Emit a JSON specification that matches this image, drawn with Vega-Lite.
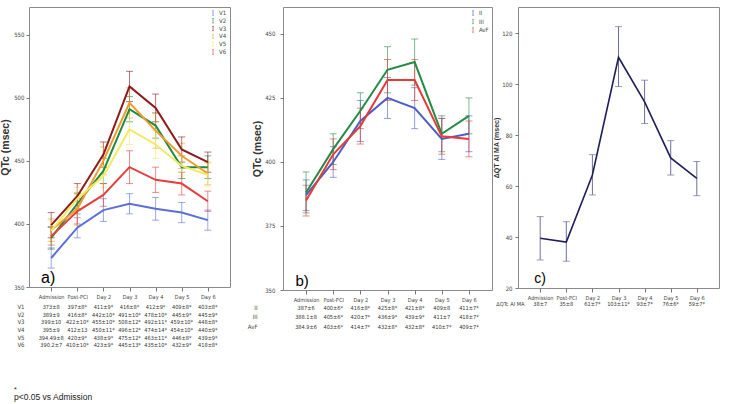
{
  "$schema": "https://vega.github.io/schema/vega-lite/v6.json",
  "background": "white",
  "padding": {"left": 0, "top": 4, "right": 0, "bottom": 0},
  "columns": 4,
  "spacing": {"row": 13, "column": 26},
  "bounds": "flush",
  "align": "each",
  "resolve": {"scale": {"color": "independent"}, "legend": {"color": "independent"}},
  "config": {
    "font": "Liberation Sans",
    "view": {"stroke": "#8a8a8a", "strokeWidth": 1},
    "axis": {"grid": false, "domain": false, "labelFont": "Liberation Sans Narrow, DejaVu Sans Condensed, sans-serif", "labelColor": "#444", "tickColor": "#777", "titleFont": "Liberation Sans", "titleColor": "#333", "labelAngle": 0},
    "legend": {"labelFont": "Liberation Sans Narrow, DejaVu Sans Condensed, sans-serif"}
  },
  "datasets": {
    "a": [
      {"lead": "V1", "time": "Admission", "mean": 373, "lo": 365, "hi": 381, "txt": "373±8"},
      {"lead": "V1", "time": "Post-PCI", "mean": 397, "lo": 389, "hi": 405, "txt": "397±8*"},
      {"lead": "V1", "time": "Day 2", "mean": 411, "lo": 402, "hi": 420, "txt": "411±9*"},
      {"lead": "V1", "time": "Day 3", "mean": 416, "lo": 408, "hi": 424, "txt": "416±8*"},
      {"lead": "V1", "time": "Day 4", "mean": 412, "lo": 403, "hi": 421, "txt": "412±9*"},
      {"lead": "V1", "time": "Day 5", "mean": 409, "lo": 401, "hi": 417, "txt": "409±8*"},
      {"lead": "V1", "time": "Day 6", "mean": 403, "lo": 395, "hi": 411, "txt": "403±8*"},
      {"lead": "V2", "time": "Admission", "mean": 389, "lo": 380, "hi": 398, "txt": "389±9"},
      {"lead": "V2", "time": "Post-PCI", "mean": 416, "lo": 408, "hi": 424, "txt": "416±8*"},
      {"lead": "V2", "time": "Day 2", "mean": 442, "lo": 432, "hi": 452, "txt": "442±10*"},
      {"lead": "V2", "time": "Day 3", "mean": 491, "lo": 481, "hi": 501, "txt": "491±10*"},
      {"lead": "V2", "time": "Day 4", "mean": 478, "lo": 468, "hi": 488, "txt": "478±10*"},
      {"lead": "V2", "time": "Day 5", "mean": 445, "lo": 436, "hi": 454, "txt": "445±9*"},
      {"lead": "V2", "time": "Day 6", "mean": 445, "lo": 436, "hi": 454, "txt": "445±9*"},
      {"lead": "V3", "time": "Admission", "mean": 399, "lo": 389, "hi": 409, "txt": "399±10"},
      {"lead": "V3", "time": "Post-PCI", "mean": 422, "lo": 412, "hi": 432, "txt": "422±10*"},
      {"lead": "V3", "time": "Day 2", "mean": 455, "lo": 445, "hi": 465, "txt": "455±10*"},
      {"lead": "V3", "time": "Day 3", "mean": 509, "lo": 497, "hi": 521, "txt": "508±12*"},
      {"lead": "V3", "time": "Day 4", "mean": 492, "lo": 481, "hi": 503, "txt": "492±11*"},
      {"lead": "V3", "time": "Day 5", "mean": 459, "lo": 449, "hi": 469, "txt": "459±10*"},
      {"lead": "V3", "time": "Day 6", "mean": 449, "lo": 441, "hi": 457, "txt": "448±8*"},
      {"lead": "V4", "time": "Admission", "mean": 395, "lo": 386, "hi": 404, "txt": "395±9"},
      {"lead": "V4", "time": "Post-PCI", "mean": 412, "lo": 399, "hi": 425, "txt": "412±13"},
      {"lead": "V4", "time": "Day 2", "mean": 450, "lo": 439, "hi": 461, "txt": "450±11*"},
      {"lead": "V4", "time": "Day 3", "mean": 496, "lo": 484, "hi": 508, "txt": "496±12*"},
      {"lead": "V4", "time": "Day 4", "mean": 474, "lo": 460, "hi": 488, "txt": "474±14*"},
      {"lead": "V4", "time": "Day 5", "mean": 454, "lo": 444, "hi": 464, "txt": "454±10*"},
      {"lead": "V4", "time": "Day 6", "mean": 440, "lo": 431, "hi": 449, "txt": "440±9*"},
      {"lead": "V5", "time": "Admission", "mean": 394.5, "lo": 386.5, "hi": 402.5, "txt": "394.49±8"},
      {"lead": "V5", "time": "Post-PCI", "mean": 420, "lo": 411, "hi": 429, "txt": "420±9*"},
      {"lead": "V5", "time": "Day 2", "mean": 438, "lo": 429, "hi": 447, "txt": "438±9*"},
      {"lead": "V5", "time": "Day 3", "mean": 475, "lo": 463, "hi": 487, "txt": "475±12*"},
      {"lead": "V5", "time": "Day 4", "mean": 463, "lo": 452, "hi": 474, "txt": "463±11*"},
      {"lead": "V5", "time": "Day 5", "mean": 446, "lo": 438, "hi": 454, "txt": "446±8*"},
      {"lead": "V5", "time": "Day 6", "mean": 439, "lo": 430, "hi": 448, "txt": "439±9*"},
      {"lead": "V6", "time": "Admission", "mean": 390.2, "lo": 383.2, "hi": 397.2, "txt": "390.2±7"},
      {"lead": "V6", "time": "Post-PCI", "mean": 410, "lo": 400, "hi": 420, "txt": "410±10*"},
      {"lead": "V6", "time": "Day 2", "mean": 423, "lo": 414, "hi": 432, "txt": "423±9*"},
      {"lead": "V6", "time": "Day 3", "mean": 445, "lo": 432, "hi": 458, "txt": "445±13*"},
      {"lead": "V6", "time": "Day 4", "mean": 435, "lo": 425, "hi": 445, "txt": "435±10*"},
      {"lead": "V6", "time": "Day 5", "mean": 432, "lo": 423, "hi": 441, "txt": "432±9*"},
      {"lead": "V6", "time": "Day 6", "mean": 418, "lo": 410, "hi": 426, "txt": "418±8*"}
    ],
    "b": [
      {"lead": "II", "time": "Admission", "mean": 387, "lo": 381, "hi": 393, "txt": "387±6"},
      {"lead": "II", "time": "Post-PCI", "mean": 400, "lo": 394, "hi": 406, "txt": "400±6*"},
      {"lead": "II", "time": "Day 2", "mean": 416, "lo": 408, "hi": 424, "txt": "416±8*"},
      {"lead": "II", "time": "Day 3", "mean": 425, "lo": 417, "hi": 433, "txt": "425±8*"},
      {"lead": "II", "time": "Day 4", "mean": 421, "lo": 413, "hi": 429, "txt": "421±8*"},
      {"lead": "II", "time": "Day 5", "mean": 409, "lo": 401, "hi": 417, "txt": "409±8"},
      {"lead": "II", "time": "Day 6", "mean": 411, "lo": 404, "hi": 418, "txt": "411±7*"},
      {"lead": "III", "time": "Admission", "mean": 388.1, "lo": 380.1, "hi": 396.1, "txt": "388.1±8"},
      {"lead": "III", "time": "Post-PCI", "mean": 405, "lo": 399, "hi": 411, "txt": "405±6*"},
      {"lead": "III", "time": "Day 2", "mean": 420, "lo": 413, "hi": 427, "txt": "420±7*"},
      {"lead": "III", "time": "Day 3", "mean": 436, "lo": 427, "hi": 445, "txt": "436±9*"},
      {"lead": "III", "time": "Day 4", "mean": 439, "lo": 430, "hi": 448, "txt": "439±9*"},
      {"lead": "III", "time": "Day 5", "mean": 411, "lo": 404, "hi": 418, "txt": "411±7"},
      {"lead": "III", "time": "Day 6", "mean": 418, "lo": 411, "hi": 425, "txt": "418±7*"},
      {"lead": "AvF", "time": "Admission", "mean": 384.9, "lo": 378.9, "hi": 390.9, "txt": "384.9±6"},
      {"lead": "AvF", "time": "Post-PCI", "mean": 403, "lo": 397, "hi": 409, "txt": "403±6*"},
      {"lead": "AvF", "time": "Day 2", "mean": 414, "lo": 407, "hi": 421, "txt": "414±7*"},
      {"lead": "AvF", "time": "Day 3", "mean": 432, "lo": 424, "hi": 440, "txt": "432±8*"},
      {"lead": "AvF", "time": "Day 4", "mean": 432, "lo": 424, "hi": 440, "txt": "432±8*"},
      {"lead": "AvF", "time": "Day 5", "mean": 410, "lo": 403, "hi": 417, "txt": "410±7*"},
      {"lead": "AvF", "time": "Day 6", "mean": 409, "lo": 402, "hi": 416, "txt": "409±7*"}
    ],
    "c": [
      {"lead": "ΔQTc AI MA", "time": "Admission", "mean": 39.5, "lo": 31, "hi": 48, "txt": "38±7"},
      {"lead": "ΔQTc AI MA", "time": "Post-PCI", "mean": 38, "lo": 30.5, "hi": 46, "txt": "35±8"},
      {"lead": "ΔQTc AI MA", "time": "Day 2", "mean": 64.3, "lo": 56.5, "hi": 72.3, "txt": "61±7*"},
      {"lead": "ΔQTc AI MA", "time": "Day 3", "mean": 110.5, "lo": 99, "hi": 122.5, "txt": "103±11*"},
      {"lead": "ΔQTc AI MA", "time": "Day 4", "mean": 93, "lo": 84.5, "hi": 101.5, "txt": "93±7*"},
      {"lead": "ΔQTc AI MA", "time": "Day 5", "mean": 71, "lo": 64.3, "hi": 77.8, "txt": "76±6*"},
      {"lead": "ΔQTc AI MA", "time": "Day 6", "mean": 63, "lo": 56.2, "hi": 69.6, "txt": "59±7*"}
    ]
  },
  "concat": [
    {
      "width": 201, "height": 280,
      "data": {"name": "a"},
      "layer": [
        {
          "mark": {"type": "errorbar", "ticks": {"size": 7}, "thickness": 1, "opacity": 0.6},
          "encoding": {
            "x": {"field": "time", "type": "ordinal", "sort": null, "scale": {"type": "point", "domain": ["Admission", "Post-PCI", "Day 2", "Day 3", "Day 4", "Day 5", "Day 6"], "padding": 0.85}, "axis": {"title": null, "labelFontSize": 5.6, "tickSize": 4, "labelPadding": 3}},
            "y": {"field": "lo", "type": "quantitative", "title": "QTc (msec)", "scale": {"domain": [350, 572], "nice": false, "zero": false}, "axis": {"values": [350, 400, 450, 500, 550], "titleFontSize": 10.5, "titleFontWeight": "bold", "titlePadding": 3, "labelFontSize": 6, "tickSize": 3, "labelPadding": 2}},
            "y2": {"field": "hi"},
            "color": {"field": "lead", "type": "nominal", "scale": {"domain": ["V1", "V2", "V3", "V4", "V5", "V6"], "range": ["#5a6fd8", "#1f8a3c", "#8b1a1a", "#f29a2e", "#f2ea60", "#e2403f"]}, "legend": {"title": null, "orient": "top-right", "offset": 3, "padding": 0, "labelFontSize": 6, "labelColor": "#444", "symbolType": "M0,-1V1M-0.4,-1H0.4M-0.4,1H0.4", "symbolSize": 20, "symbolStrokeWidth": 1, "symbolFillColor": "transparent", "clipHeight": 6, "rowPadding": 1.8, "labelOffset": 3, "encode": {"symbols": {"update": {"size": {"value": 20}, "strokeWidth": {"value": 1}}}}}}
          }
        },
        {
          "mark": {"type": "line", "strokeWidth": 2},
          "encoding": {
            "x": {"field": "time", "type": "ordinal", "sort": null},
            "y": {"field": "mean", "type": "quantitative", "title": "QTc (msec)"},
            "color": {"field": "lead", "type": "nominal"}
          }
        },
        {
          "data": {"values": [{"lab": "a)"}]},
          "mark": {"type": "text", "fontSize": 16, "align": "center", "baseline": "alphabetic", "color": "black", "dx": -3},
          "encoding": {"x": {"datum": "Admission", "type": "ordinal"}, "y": {"datum": 353, "type": "quantitative"}, "text": {"field": "lab"}}
        }
      ]
    },
    {
      "width": 1, "height": 1,
      "view": {"stroke": null},
      "data": {"values": [{"k": 1}]},
      "mark": {"type": "point", "opacity": 0}
    },
    {
      "width": 209, "height": 283,
      "data": {"name": "b"},
      "layer": [
        {
          "mark": {"type": "errorbar", "ticks": {"size": 7}, "thickness": 1, "opacity": 0.6},
          "encoding": {
            "x": {"field": "time", "type": "ordinal", "sort": null, "scale": {"type": "point", "domain": ["Admission", "Post-PCI", "Day 2", "Day 3", "Day 4", "Day 5", "Day 6"], "padding": 0.85}, "axis": {"title": null, "labelFontSize": 5.6, "tickSize": 4, "labelPadding": 3}},
            "y": {"field": "lo", "type": "quantitative", "title": "QTc (msec)", "scale": {"domain": [350, 460.5], "nice": false, "zero": false}, "axis": {"values": [350, 375, 400, 425, 450], "titleFontSize": 10.5, "titleFontWeight": "bold", "titlePadding": 2, "labelFontSize": 6, "tickSize": 3, "labelPadding": 5}},
            "y2": {"field": "hi"},
            "color": {"field": "lead", "type": "nominal", "scale": {"domain": ["II", "III", "AvF"], "range": ["#4b5fc1", "#238b45", "#e8393a"]}, "legend": {"title": null, "orient": "top-right", "offset": 3, "padding": 0, "labelFontSize": 6, "labelColor": "#444", "symbolType": "M0,-1V1M-0.4,-1H0.4M-0.4,1H0.4", "symbolSize": 20, "symbolStrokeWidth": 1, "symbolFillColor": "transparent", "clipHeight": 6, "rowPadding": 2.5, "labelOffset": 3, "encode": {"symbols": {"update": {"size": {"value": 20}, "strokeWidth": {"value": 1}}}}}}
          }
        },
        {
          "mark": {"type": "line", "strokeWidth": 2},
          "encoding": {
            "x": {"field": "time", "type": "ordinal", "sort": null},
            "y": {"field": "mean", "type": "quantitative", "title": "QTc (msec)"},
            "color": {"field": "lead", "type": "nominal"}
          }
        },
        {
          "data": {"values": [{"lab": "b)"}]},
          "mark": {"type": "text", "fontSize": 15, "align": "center", "baseline": "alphabetic", "color": "black", "dx": -4},
          "encoding": {"x": {"datum": "Admission", "type": "ordinal"}, "y": {"datum": 351.6, "type": "quantitative"}, "text": {"field": "lab"}}
        }
      ]
    },
    {
      "width": 201, "height": 281,
      "data": {"name": "c"},
      "layer": [
        {
          "mark": {"type": "errorbar", "ticks": {"size": 7}, "thickness": 1, "color": "#6e6e9c"},
          "encoding": {
            "x": {"field": "time", "type": "ordinal", "sort": null, "scale": {"type": "point", "domain": ["Admission", "Post-PCI", "Day 2", "Day 3", "Day 4", "Day 5", "Day 6"], "padding": 0.85}, "axis": {"title": null, "labelFontSize": 5.6, "tickSize": 4, "labelPadding": 3}},
            "y": {"field": "lo", "type": "quantitative", "title": "ΔQT AI MA (msec)", "scale": {"domain": [20, 130.2], "nice": false, "zero": false}, "axis": {"values": [20, 40, 60, 80, 100, 120], "titleFontSize": 7, "titleFontWeight": "bold", "titlePadding": 2, "labelFontSize": 6, "tickSize": 3, "labelPadding": 3}},
            "y2": {"field": "hi"}
          }
        },
        {
          "mark": {"type": "line", "strokeWidth": 1.6, "color": "#1e1e5a"},
          "encoding": {
            "x": {"field": "time", "type": "ordinal", "sort": null},
            "y": {"field": "mean", "type": "quantitative", "title": "ΔQT AI MA (msec)"}
          }
        },
        {
          "data": {"values": [{"lab": "c)"}]},
          "mark": {"type": "text", "fontSize": 14, "align": "center", "baseline": "alphabetic", "color": "black", "dx": 0},
          "encoding": {"x": {"datum": "Admission", "type": "ordinal"}, "y": {"datum": 21.8, "type": "quantitative"}, "text": {"field": "lab"}}
        }
      ]
    },
    {
      "width": 201, "height": 46,
      "data": {"name": "a"},
      "view": {"stroke": null},
      "title": {"text": "*", "subtitle": "p<0.05 vs Admission", "orient": "bottom", "anchor": "start", "frame": "group", "dx": -15, "offset": 37, "fontSize": 7, "fontWeight": "normal", "color": "#222", "subtitleFontSize": 8.5, "subtitleColor": "#222", "subtitlePadding": 0, "font": "Liberation Sans", "subtitleFont": "Liberation Sans"},
      "mark": {"type": "text", "fontSize": 5.6, "font": "Liberation Sans Narrow, DejaVu Sans Condensed, sans-serif", "color": "#333"},
      "encoding": {
        "x": {"field": "time", "type": "ordinal", "scale": {"type": "point", "domain": ["Admission", "Post-PCI", "Day 2", "Day 3", "Day 4", "Day 5", "Day 6"], "padding": 0.85}, "axis": null},
        "y": {"field": "lead", "type": "ordinal", "scale": {"type": "band", "domain": ["V1", "V2", "V3", "V4", "V5", "V6"], "paddingInner": 0, "paddingOuter": 0}, "axis": {"title": null, "ticks": false, "labelPadding": 5, "labelFontSize": 6}},
        "text": {"field": "txt"}
      }
    },
    {
      "width": 1, "height": 1,
      "view": {"stroke": null},
      "data": {"values": [{"k": 1}]},
      "mark": {"type": "point", "opacity": 0}
    },
    {
      "width": 209, "height": 28.5,
      "data": {"name": "b"},
      "view": {"stroke": null},
      "mark": {"type": "text", "fontSize": 5.6, "font": "Liberation Sans Narrow, DejaVu Sans Condensed, sans-serif", "color": "#333"},
      "encoding": {
        "x": {"field": "time", "type": "ordinal", "scale": {"type": "point", "domain": ["Admission", "Post-PCI", "Day 2", "Day 3", "Day 4", "Day 5", "Day 6"], "padding": 0.85}, "axis": null},
        "y": {"field": "lead", "type": "ordinal", "scale": {"type": "band", "domain": ["II", "III", "AvF"], "paddingInner": 0, "paddingOuter": 0}, "axis": {"title": null, "ticks": false, "labelPadding": 26, "labelFontSize": 6, "labelColor": "#444"}},
        "text": {"field": "txt"}
      }
    },
    {
      "width": 201, "height": 2,
      "data": {"name": "c"},
      "view": {"stroke": null},
      "mark": {"type": "text", "fontSize": 5.6, "font": "Liberation Sans Narrow, DejaVu Sans Condensed, sans-serif", "color": "#333"},
      "encoding": {
        "x": {"field": "time", "type": "ordinal", "scale": {"type": "point", "domain": ["Admission", "Post-PCI", "Day 2", "Day 3", "Day 4", "Day 5", "Day 6"], "padding": 0.85}, "axis": null},
        "y": {"field": "lead", "type": "ordinal", "scale": {"type": "band", "paddingInner": 0, "paddingOuter": 0}, "axis": {"title": null, "ticks": false, "labelPadding": -6, "labelFontSize": 5.6}},
        "text": {"field": "txt"}
      }
    }
  ]
}
